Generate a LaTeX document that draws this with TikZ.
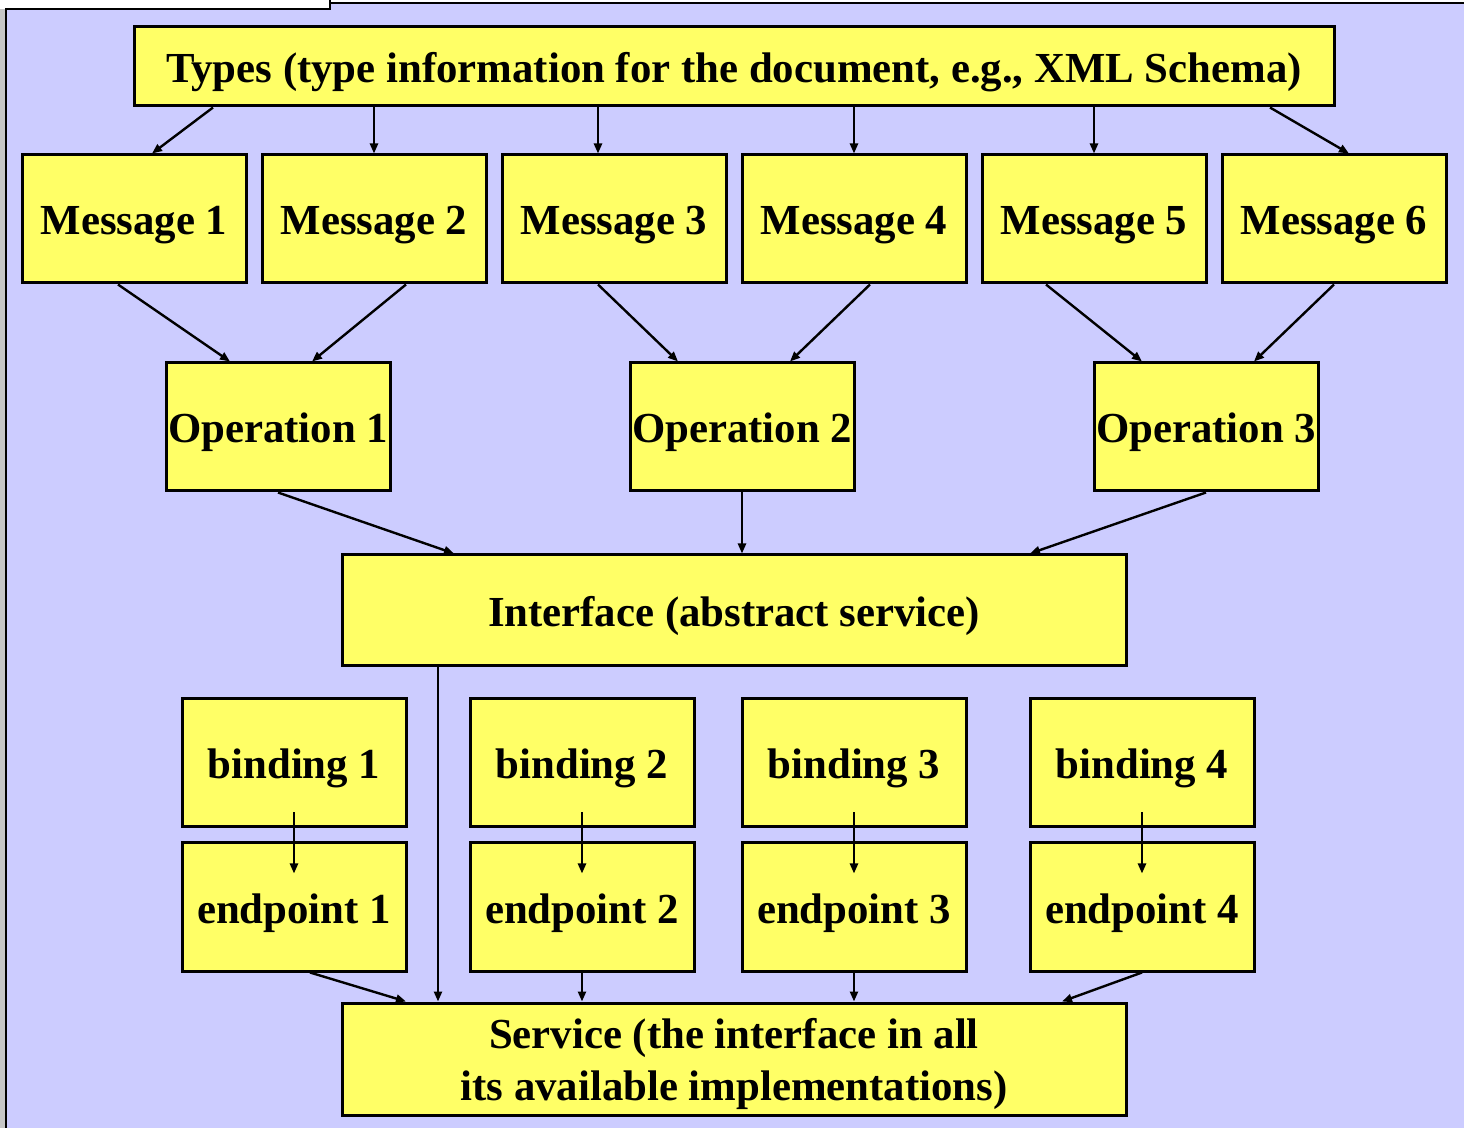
\documentclass[tikz,border=0pt]{standalone}
\usepackage{fontspec}
\setmainfont{Liberation Serif}
\usetikzlibrary{arrows.meta}
\definecolor{lavender}{HTML}{CCCCFF}
\definecolor{boxyellow}{HTML}{FFFF66}
\begin{document}
\begin{tikzpicture}[x=0.5pt,y=-0.5pt,
  box/.style={draw=black,line width=1.5pt,fill=boxyellow,inner sep=0pt,
    minimum width=112pt,minimum height=64pt,align=center,
    text height=17pt,text depth=1pt,
    font=\bfseries\fontsize{21.4}{26}\selectfont},
  wide/.style={box,minimum width=392pt},
  arr/.style={line width=1.2pt,-{Triangle[length=5pt,width=4pt]}}]
\useasboundingbox (0,0) rectangle (1464,1128);
% page frame
\fill[white] (0,0) rectangle (1464,1128);
\fill[gray!45] (0,9) rectangle (6,1128);
\fill[lavender] (6,9) -- (330,9) -- (330,3) -- (1464,3) -- (1464,1128) -- (6,1128) -- cycle;
\draw[line width=1.2pt] (6,1128) -- (6,9) -- (330,9) -- (330,0);
\draw[line width=1.2pt] (330,3) -- (1464,3);
% nodes
\node[box,minimum width=600pt,minimum height=39.5pt] (types) at (734,66.5)
  {Types (type information for the document, e.g., XML Schema)};
\foreach \i/\x in {1/134,2/374,3/614,4/854,5/1094,6/1334}
  \node[box] (m\i) at (\x,219) {Message \i};
\foreach \i/\x in {1/278,2/742,3/1206}
  \node[box] (o\i) at (\x,427) {Operation \i};
\node[wide,minimum height=55.5pt] (iface) at (734,610.5) {Interface (abstract service)};
\foreach \i/\x in {1/294,2/582,3/854,4/1142}{
  \node[box] (b\i) at (\x,763) {binding \i};
  \node[box] (e\i) at (\x,907) {endpoint \i};
}
\node[wide,minimum height=56pt,text height=41pt,text depth=0pt] (svc) at (734,1059)
  {Service (the interface in all\\its available implementations)};
% types to messages
\draw[arr] ([xshift=-260.5pt]types.south) -- ([xshift=9pt]m1.north);
\draw[arr] ([xshift=-180pt]types.south) -- (m2.north);
\draw[arr] ([xshift=-68pt]types.south) -- ([xshift=-8pt]m3.north);
\draw[arr] ([xshift=60pt]types.south) -- (m4.north);
\draw[arr] ([xshift=180pt]types.south) -- (m5.north);
\draw[arr] ([xshift=268pt]types.south) -- ([xshift=7.5pt]m6.north);
% messages to operations
\draw[arr] ([xshift=-8pt]m1.south) -- ([xshift=-24pt]o1.north);
\draw[arr] ([xshift=16pt]m2.south) -- ([xshift=17pt]o1.north);
\draw[arr] ([xshift=-8pt]m3.south) -- ([xshift=-32pt]o2.north);
\draw[arr] ([xshift=8pt]m4.south) -- ([xshift=24pt]o2.north);
\draw[arr] ([xshift=-24pt]m5.south) -- ([xshift=-32pt]o3.north);
\draw[arr] (m6.south) -- ([xshift=24pt]o3.north);
% operations to interface
\draw[arr] (o1.south) -- ([xshift=-140pt]iface.north);
\draw[arr] (o2.south) -- ([xshift=4pt]iface.north);
\draw[arr] (o3.south) -- ([xshift=148pt]iface.north);
% interface to service
\draw[arr] ([xshift=-148pt]iface.south) -- ([xshift=-148pt]svc.north);
% bindings to endpoints
\foreach \i in {1,...,4}
  \draw[arr] ([yshift=8pt]b\i.south) -- ([yshift=-16pt]e\i.north);
% endpoints to service
\draw[arr] ([xshift=8pt]e1.south) -- ([xshift=-164pt]svc.north);
\draw[arr] (e2.south) -- ([xshift=-76pt]svc.north);
\draw[arr] (e3.south) -- ([xshift=60pt]svc.north);
\draw[arr] (e4.south) -- ([xshift=164pt]svc.north);
\end{tikzpicture}
\end{document}
